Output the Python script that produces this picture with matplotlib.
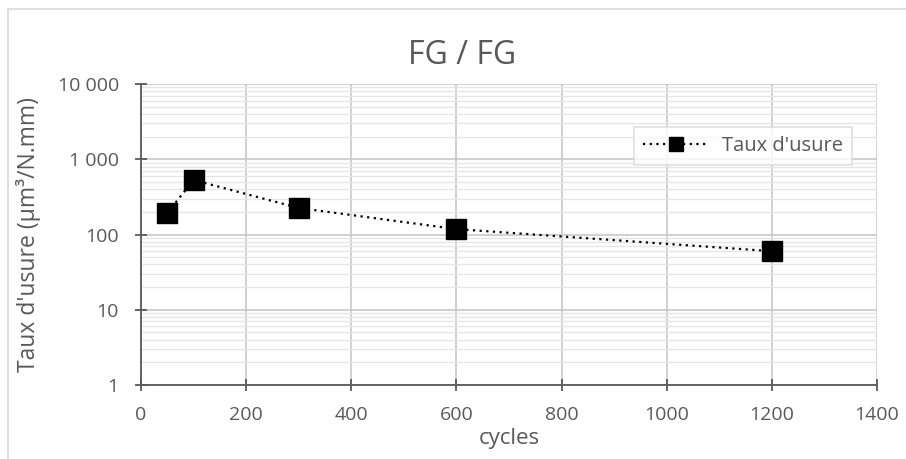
import matplotlib.pyplot as plt
from matplotlib.ticker import FixedLocator, FuncFormatter, LogLocator, NullFormatter
from matplotlib.patches import Rectangle

cycles = [50, 100, 300, 600, 1200]
taux_usure = [193, 530, 225, 118, 60]

x_ticks = [0, 200, 400, 600, 800, 1000, 1200, 1400]
y_ticks = [1, 10, 100, 1000, 10000]
y_tick_labels = ["1", "10", "100", "1 000", "10 000"]

plt.rcParams['font.family'] = ['Open Sans', 'DejaVu Sans']
txt = "#595959"

fig = plt.figure(figsize=(9.06, 4.59), dpi=100)
ax = fig.add_axes([141 / 906, 1 - 385 / 459, (877 - 141) / 906, (385 - 84) / 459])

ax.plot(cycles, taux_usure, color="black", linestyle=(0, (1, 2)), linewidth=1.6,
        marker="s", markersize=14, markerfacecolor="black", markeredgecolor="black",
        label="Taux d'usure")

ax.set_yscale("log")
ax.set_xlim(0, 1400)
ax.set_ylim(1, 10000)
ax.xaxis.set_major_locator(FixedLocator(x_ticks))
ax.yaxis.set_major_locator(FixedLocator(y_ticks))
ax.yaxis.set_major_formatter(FuncFormatter(lambda v, p: y_tick_labels[y_ticks.index(round(v))] if round(v) in y_ticks else ""))
ax.yaxis.set_minor_locator(LogLocator(base=10, subs=range(2, 10)))
ax.yaxis.set_minor_formatter(NullFormatter())

ax.grid(True, which="major", color="#c8c8c8", linewidth=1.2)
ax.grid(True, which="minor", axis="y", color="#e6e6e6", linewidth=1.0)
ax.set_axisbelow(True)

for s in ["top", "right"]:
    ax.spines[s].set_visible(False)
for s in ["left", "bottom"]:
    ax.spines[s].set_color("#595959")
    ax.spines[s].set_linewidth(1.3)

ax.tick_params(axis="both", which="major", direction="inout", length=8, width=1.3,
               color="#595959", labelcolor=txt, labelsize=14)
ax.tick_params(axis="x", which="major", pad=11)
ax.tick_params(axis="y", which="major", pad=12)
ax.tick_params(axis="y", which="minor", length=0)

ax.set_xlabel("cycles", fontsize=16, color=txt, labelpad=3)
ax.set_ylabel("Taux d'usure (µm³/N.mm)", fontsize=16.5, color=txt, labelpad=12)
fig.text(462 / 906, 1 - 55 / 459, "FG / FG", fontsize=23, color=txt, ha="center", va="center")

leg = ax.legend(loc="upper right", bbox_to_anchor=(0.966, 0.857), fontsize=14.5,
                frameon=True, fancybox=False, handlelength=3.2, markerscale=0.68,
                borderpad=0.45, handletextpad=0.7, borderaxespad=0)
leg.get_frame().set_edgecolor("#d9d9d9")
leg.get_frame().set_linewidth(1.2)
for t in leg.get_texts():
    t.set_color(txt)

fig.patches.append(Rectangle((8 / 906, -0.1), 1.2, 1 - 9 / 459 + 0.1, transform=fig.transFigure,
                             fill=False, edgecolor="#d9d9d9", linewidth=1.2))

fig.savefig("out.png", dpi=100)
